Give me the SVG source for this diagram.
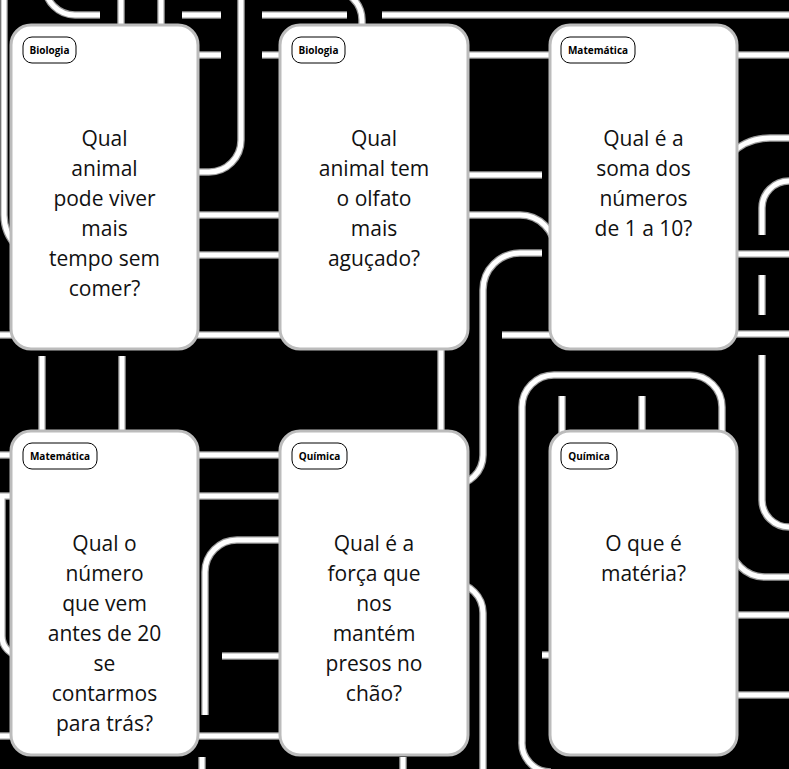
<svg xmlns="http://www.w3.org/2000/svg" xmlns:xlink="http://www.w3.org/1999/xlink" width="789" height="769" viewBox="0 0 789 769">
<style>
.bg{fill:#000}
.pipeO{fill:none;stroke:#9c9c9c;stroke-width:7.5}
.pipeI{fill:none;stroke:#fff;stroke-width:5}
.card{fill:#fff;stroke:#bcbcbc;stroke-width:3}
.tag{fill:#fff;stroke:#000;stroke-width:1}
.tagt{font-family:"Open Sans","Noto Sans",sans-serif;font-weight:700;font-size:10px;fill:#000;text-anchor:middle}
.q{font-family:"Open Sans","Noto Sans",sans-serif;font-weight:500;font-size:21px;fill:#111;text-anchor:middle}
</style>
<defs>
<g id="pipes">
<path d="M45,-20 V-15 A30,30 0 0 0 75,15 H100"/>
<path d="M121,-5 V25"/>
<path d="M161,-5 V25"/>
<path d="M182,15 H221"/>
<path d="M241,-5 V140 A32,32 0 0 1 209,172 H190"/>
<path d="M262,15 H347"/>
<path d="M332,-10 A30,30 0 0 1 362,20 V30"/>
<path d="M382,15 H795"/>
<path d="M190,55 H221"/>
<path d="M262,55 H560"/>
<path d="M730,55 H795"/>
<path d="M460,175 H542"/>
<path d="M460,215 H520 A35,35 0 0 1 555,250"/>
<path d="M190,215 H290"/>
<path d="M190,255 H290"/>
<path d="M542,253 H520 A37,37 0 0 0 483,290 V455 A30,30 0 0 1 453,485"/>
<path d="M730,254 H795"/>
<path d="M-5,335 H20"/>
<path d="M190,335 H290"/>
<path d="M502,335 H560"/>
<path d="M730,334 H795"/>
<path d="M795,138 H770 A56,56 0 0 0 714,194"/>
<path d="M795,181 H789 A27,27 0 0 0 762,208 V235"/>
<path d="M762,275 V315"/>
<path d="M762,355 V500 A27,27 0 0 0 789,527 H795"/>
<path d="M730,520 V542 A35,35 0 0 0 765,577 H795"/>
<path d="M730,615 H795"/>
<path d="M730,695 H795"/>
<path d="M4,-5 V215 A45,45 0 0 0 49,260"/>
<path d="M42,356 V440"/>
<path d="M122,356 V440"/>
<path d="M441,340 V440"/>
<path d="M551,772 A29,29 0 0 1 522,741 V407 A32,32 0 0 1 554,375 H690 A32,32 0 0 1 722,407 V440"/>
<path d="M562,396 V440"/>
<path d="M642,396 V440"/>
<path d="M-5,455 H20"/>
<path d="M190,455 H290"/>
<path d="M-5,496 H20"/>
<path d="M190,496 H290"/>
<path d="M290,540 H237 A32,32 0 0 0 205,572 V715"/>
<path d="M222,656 H290"/>
<path d="M2,497 V636 A20,20 0 0 0 22,656"/>
<path d="M-5,736 H20"/>
<path d="M190,736 H290"/>
<path d="M202,757 V775"/>
<path d="M403,757 V775"/>
<path d="M453,583 A30,30 0 0 1 483,613 V775"/>
<path d="M542,655 H560"/>
</g>
</defs>
<rect class="bg" x="0" y="0" width="789" height="769"/>
<g id="background-pipes">
<use xlink:href="#pipes" href="#pipes" class="pipeO"/>
<use xlink:href="#pipes" href="#pipes" class="pipeI"/>
</g>
<g id="card-1">
<rect class="card" x="11" y="25" width="187" height="324" rx="20"/>
<rect class="tag" x="23" y="37" width="53" height="26" rx="9"/>
<text class="tagt" x="49.5" y="53.5">Biologia</text>
<text class="q" x="104.5" y="146">Qual</text>
<text class="q" x="104.5" y="176">animal</text>
<text class="q" x="104.5" y="206">pode viver</text>
<text class="q" x="104.5" y="236">mais</text>
<text class="q" x="104.5" y="266">tempo sem</text>
<text class="q" x="104.5" y="296">comer?</text>
</g>
<g id="card-2">
<rect class="card" x="280" y="25" width="188" height="324" rx="20"/>
<rect class="tag" x="292" y="37" width="53" height="26" rx="9"/>
<text class="tagt" x="318.5" y="53.5">Biologia</text>
<text class="q" x="374" y="146">Qual</text>
<text class="q" x="374" y="176">animal tem</text>
<text class="q" x="374" y="206">o olfato</text>
<text class="q" x="374" y="236">mais</text>
<text class="q" x="374" y="266">aguçado?</text>
</g>
<g id="card-3">
<rect class="card" x="550" y="25" width="187" height="324" rx="20"/>
<rect class="tag" x="561" y="37" width="74" height="26" rx="9"/>
<text class="tagt" x="598" y="53.5">Matemática</text>
<text class="q" x="643.5" y="146">Qual é a</text>
<text class="q" x="643.5" y="176">soma dos</text>
<text class="q" x="643.5" y="206">números</text>
<text class="q" x="643.5" y="236">de 1 a 10?</text>
</g>
<g id="card-4">
<rect class="card" x="11" y="431" width="187" height="324" rx="20"/>
<rect class="tag" x="23" y="443" width="74" height="26" rx="9"/>
<text class="tagt" x="60" y="459.5">Matemática</text>
<text class="q" x="104.5" y="551">Qual o</text>
<text class="q" x="104.5" y="581">número</text>
<text class="q" x="104.5" y="611">que vem</text>
<text class="q" x="104.5" y="641">antes de 20</text>
<text class="q" x="104.5" y="671">se</text>
<text class="q" x="104.5" y="701">contarmos</text>
<text class="q" x="104.5" y="731">para trás?</text>
</g>
<g id="card-5">
<rect class="card" x="280" y="431" width="188" height="324" rx="20"/>
<rect class="tag" x="292" y="443" width="55" height="26" rx="9"/>
<text class="tagt" x="319.5" y="459.5">Química</text>
<text class="q" x="374" y="551">Qual é a</text>
<text class="q" x="374" y="581">força que</text>
<text class="q" x="374" y="611">nos</text>
<text class="q" x="374" y="641">mantém</text>
<text class="q" x="374" y="671">presos no</text>
<text class="q" x="374" y="701">chão?</text>
</g>
<g id="card-6">
<rect class="card" x="550" y="431" width="187" height="324" rx="20"/>
<rect class="tag" x="561" y="443" width="56" height="26" rx="9"/>
<text class="tagt" x="589" y="459.5">Química</text>
<text class="q" x="643.5" y="551">O que é</text>
<text class="q" x="643.5" y="581">matéria?</text>
</g>
</svg>
